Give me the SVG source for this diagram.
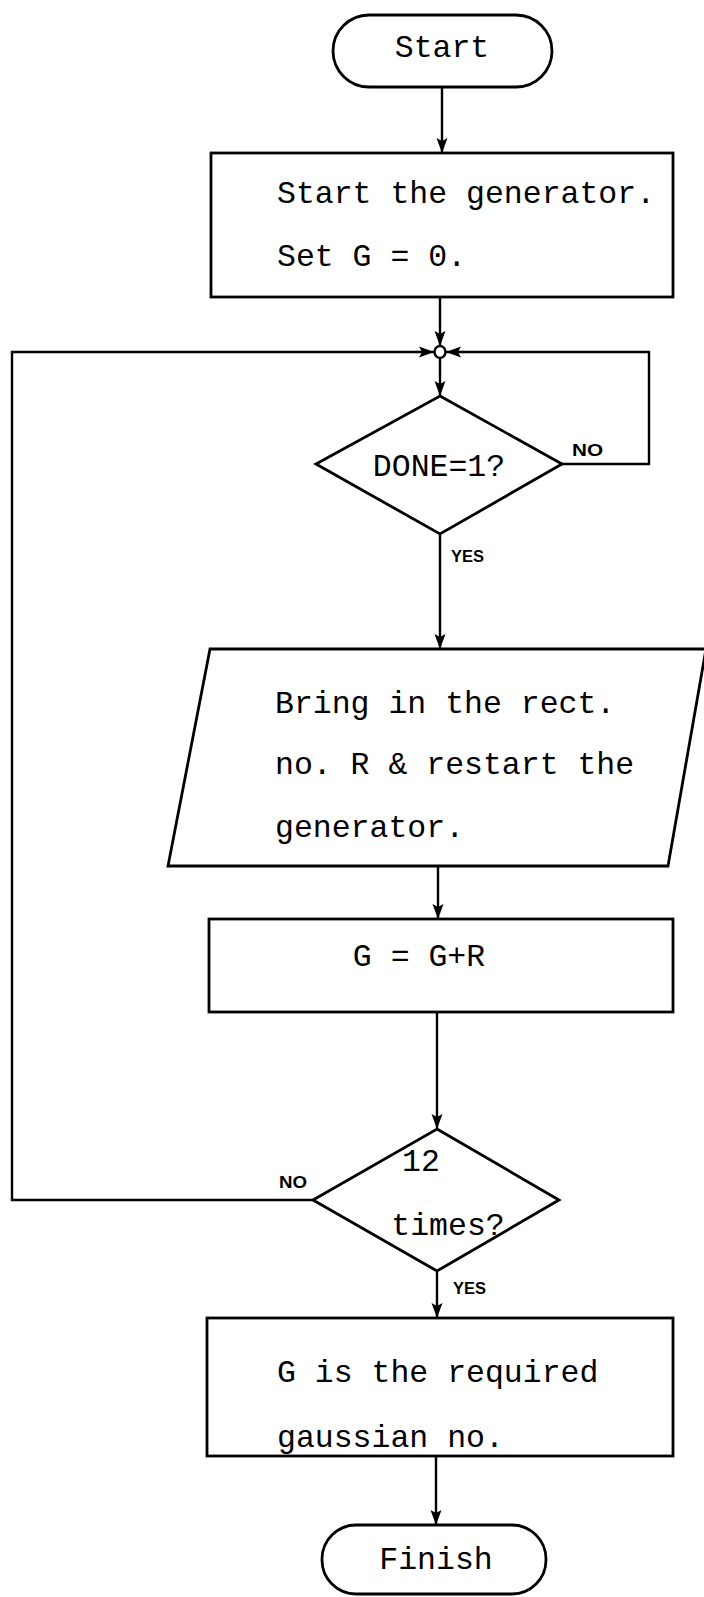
<svg xmlns="http://www.w3.org/2000/svg" width="704" height="1597" viewBox="0 0 704 1597">
<style>
.shape{fill:none;stroke:#000;stroke-width:2.8;stroke-linejoin:miter}
.line{fill:none;stroke:#000;stroke-width:2.4}
.t{font-family:"Liberation Mono","Courier New",monospace;font-size:31.5px;fill:#000}
.c{text-anchor:middle}
.lab{font-family:"Liberation Sans",Arial,sans-serif;font-weight:bold;font-size:16px;fill:#000}
</style>
<defs>
<marker id="ah" markerUnits="userSpaceOnUse" markerWidth="16" markerHeight="12" refX="15" refY="6" orient="auto">
<path d="M0,0.5 L15,6 L0,11.5 L3,6 z" fill="#000"/>
</marker>
</defs>
<rect width="704" height="1597" fill="#fff"/>
<g id="connectors">
<path class="line" d="M442,87 V153" marker-end="url(#ah)"/>
<path class="line" d="M440,297 V346" marker-end="url(#ah)"/>
<path class="line" d="M440,358 V396" marker-end="url(#ah)"/>
<path class="line" d="M562,464 H649 V352 H446" marker-end="url(#ah)"/>
<path class="line" d="M440,534 V649" marker-end="url(#ah)"/>
<path class="line" d="M438,866 V919" marker-end="url(#ah)"/>
<path class="line" d="M437,1012 V1129" marker-end="url(#ah)"/>
<path class="line" d="M313,1200 H12 V352 H434" marker-end="url(#ah)"/>
<path class="line" d="M437,1271 V1318" marker-end="url(#ah)"/>
<path class="line" d="M436,1456 V1525" marker-end="url(#ah)"/>
</g>
<g id="junction">
<ellipse cx="440" cy="352" rx="5.5" ry="6" fill="#fff" stroke="#000" stroke-width="2.4"/>
</g>
<g id="start">
<rect class="shape" x="333" y="15" width="219" height="72" rx="36" ry="36"/>
<text class="t c" x="442" y="57">Start</text>
</g>
<g id="init">
<rect class="shape" x="211" y="153" width="462" height="144"/>
<text class="t" x="277" y="203">Start the generator.</text>
<text class="t" x="277" y="266">Set G = 0.</text>
</g>
<g id="done">
<polygon class="shape" points="440,396 562,464 440,534 316,464"/>
<text class="t c" x="439" y="476">DONE=1?</text>
<text class="lab" x="572" y="456" textLength="31" lengthAdjust="spacingAndGlyphs">NO</text>
<text class="lab" x="451" y="562" textLength="33" lengthAdjust="spacingAndGlyphs">YES</text>
</g>
<g id="bring">
<polygon class="shape" points="210,649 706,649 668,866 168,866"/>
<text class="t" x="275" y="713">Bring in the rect.</text>
<text class="t" x="275" y="774">no. R &amp; restart the</text>
<text class="t" x="275" y="837">generator.</text>
</g>
<g id="sum">
<rect class="shape" x="209" y="919" width="464" height="93"/>
<text class="t c" x="419" y="966">G = G+R</text>
</g>
<g id="times">
<polygon class="shape" points="437,1129 559,1200 437,1271 313,1200"/>
<text class="t c" x="421" y="1171">12</text>
<text class="t c" x="448" y="1235">times?</text>
<text class="lab" x="279" y="1188" textLength="28" lengthAdjust="spacingAndGlyphs">NO</text>
<text class="lab" x="453" y="1294" textLength="33" lengthAdjust="spacingAndGlyphs">YES</text>
</g>
<g id="result">
<rect class="shape" x="207" y="1318" width="466" height="138"/>
<text class="t" x="277" y="1382">G is the required</text>
<text class="t" x="277" y="1447">gaussian no.</text>
</g>
<g id="finish">
<rect class="shape" x="322" y="1525" width="224" height="69" rx="34" ry="34"/>
<text class="t c" x="436" y="1569">Finish</text>
</g>
</svg>
